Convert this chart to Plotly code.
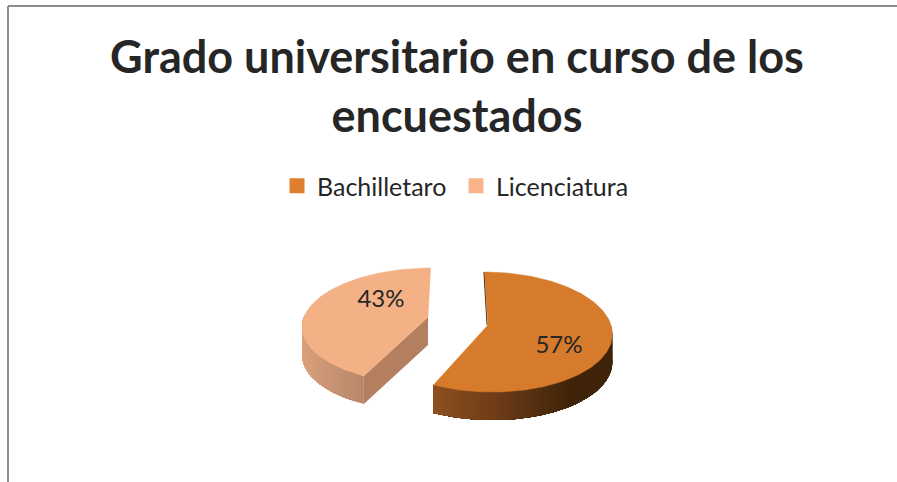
import numpy as np
import plotly.graph_objects as go

# Data
categories = ["Bachilletaro", "Licenciatura"]
percentages = [57, 43]
title_lines = ["Grado universitario en curso de los", "encuestados"]

# Styling
W, H = 897, 482
FONT = "Lato"
TEXT = "#262626"
BORDER = "#8c8c8c"
DEPTH = 28
LEGEND_COLORS = ["#dd7f2c", "#f8b48b"]
LEGEND_LEFT = [277, 456]
TOP_COLORS = ["#d67b2b", "#f4b185"]
# per-slice 3D view: apex, radius, vertical radius, perspective, shear
VIEW = [
    dict(cx=488, cy=325, R=123, Ry=59.2, k=0.117, sh=4),
    dict(cx=428, cy=317, R=124, Ry=56.3, k=0.149, sh=-3),
]
WALL_GRAD = [("#8f4f20", "#6a3a16", "#3f2409"), ("#d99f7b", "#c59271", "#b68768")]
WALL_XSPAN = [(434, 570), (305, 367)]
FACE_COLOR = "#b47f5f"
LABEL_OFFSET = [(71, 22), (-47, -16)]


def project(view, deg):
    a = np.radians(deg)
    u, v = np.sin(a), -np.cos(a)
    s = 1 / (1 - view["k"] * v)
    return (view["cx"] + view["R"] * u * s + view["sh"] * v * s,
            view["cy"] + view["Ry"] * v * s)


def hexmix(c1, c2, t):
    a = [int(c1[i:i + 2], 16) for i in (1, 3, 5)]
    b = [int(c2[i:i + 2], 16) for i in (1, 3, 5)]
    return "rgb(%d,%d,%d)" % tuple(round(p + (q - p) * t) for p, q in zip(a, b))


def ramp(grad, span, x):
    t = min(1.0, max(0.0, (x - span[0]) / (span[1] - span[0])))
    return hexmix(grad[0], grad[1], t * 2) if t < 0.5 else hexmix(grad[1], grad[2], t * 2 - 1)


def poly(fig, xs, ys, color, width=0):
    fig.add_trace(go.Scatter(
        x=list(xs), y=list(ys), mode="lines", fill="toself", fillcolor=color,
        line=dict(color=color, width=width), hoverinfo="skip", showlegend=False))


fig = go.Figure()
total = sum(percentages)
sweeps = [p / total * 360 for p in percentages]
bounds = np.cumsum([0] + sweeps)

for i, view in enumerate(VIEW):
    a0, a1 = bounds[i], bounds[i + 1]
    # curved wall: portion of the rim that faces the viewer, painted so each
    # band overlaps the rest and no seams show
    w0, w1 = max(a0, 90), min(a1, 272)
    edges = np.linspace(w0, w1, 50)
    for j in range(len(edges) - 1):
        px, py = project(view, edges[j:])
        c = ramp(WALL_GRAD[i], WALL_XSPAN[i], (px[0] + px[1]) / 2)
        poly(fig, [*px, *px[::-1], px[0]], [*py, *(py[::-1] + DEPTH), py[0]], c)
    if i == 1:
        # cut face under the front edge of the pale slice
        ex, ey = project(view, a0)
        poly(fig, [view["cx"], ex, ex, view["cx"], view["cx"]],
             [view["cy"], ey, ey + DEPTH, view["cy"] + DEPTH, view["cy"]], FACE_COLOR)
    # top surface
    angs = np.linspace(a0, a1, 160)
    px, py = project(view, angs)
    poly(fig, [view["cx"], *px, view["cx"]], [view["cy"], *py, view["cy"]], TOP_COLORS[i], 0.5)
    if i == 0:
        # thin dark cut edge by the 12 o'clock side
        tx, ty = project(view, a0)
        fig.add_trace(go.Scatter(x=[tx - 0.5, view["cx"] - 1], y=[ty, view["cy"]], mode="lines",
                                 line=dict(color="#5a3210", width=1),
                                 hoverinfo="skip", showlegend=False))

# percentage labels
fig.add_trace(go.Scatter(
    x=[v["cx"] + o[0] for v, o in zip(VIEW, LABEL_OFFSET)],
    y=[v["cy"] + o[1] for v, o in zip(VIEW, LABEL_OFFSET)],
    text=[f"{p}%" for p in percentages], mode="text",
    textfont=dict(family=FONT, size=24, color=TEXT),
    hoverinfo="skip", showlegend=False))

# legend entries, one legend box each so their spacing can follow the reference
legend_layout = {}
for n, (name, color, left) in enumerate(zip(categories, LEGEND_COLORS, LEGEND_LEFT)):
    key = "legend" if n == 0 else f"legend{n + 1}"
    fig.add_trace(go.Scatter(
        x=[None], y=[None], mode="markers", name=name, legend=key,
        marker=dict(symbol="square", size=15, color=color)))
    legend_layout[key] = dict(
        x=left / W, xanchor="left", y=1 - 186 / H, yanchor="middle",
        font=dict(family=FONT, size=25, color=TEXT), itemwidth=30,
        bgcolor="rgba(0,0,0,0)")

fig.update_layout(
    width=W, height=H, margin=dict(l=0, r=0, t=0, b=0),
    paper_bgcolor="white", plot_bgcolor="white",
    xaxis=dict(range=[0, W], visible=False, fixedrange=True),
    yaxis=dict(range=[H, 0], visible=False, fixedrange=True),
    title=dict(text="<br>".join(f"<b>{t}</b>" for t in title_lines),
               x=457 / W, xanchor="center", y=1 - 73 / H, yanchor="top",
               font=dict(family=FONT, size=45, color=TEXT)),
    shapes=[
        dict(type="line", xref="x", yref="y", x0=8, x1=8, y0=6, y1=H,
             line=dict(color=BORDER, width=2)),
        dict(type="line", xref="x", yref="y", x0=8, x1=W, y0=6, y1=6,
             line=dict(color=BORDER, width=2)),
    ],
    **legend_layout,
)
fig.write_html("out.html", config={"displayModeBar": False},
               post_script="document.body.style.margin='0';document.documentElement.style.overflow='hidden';")
